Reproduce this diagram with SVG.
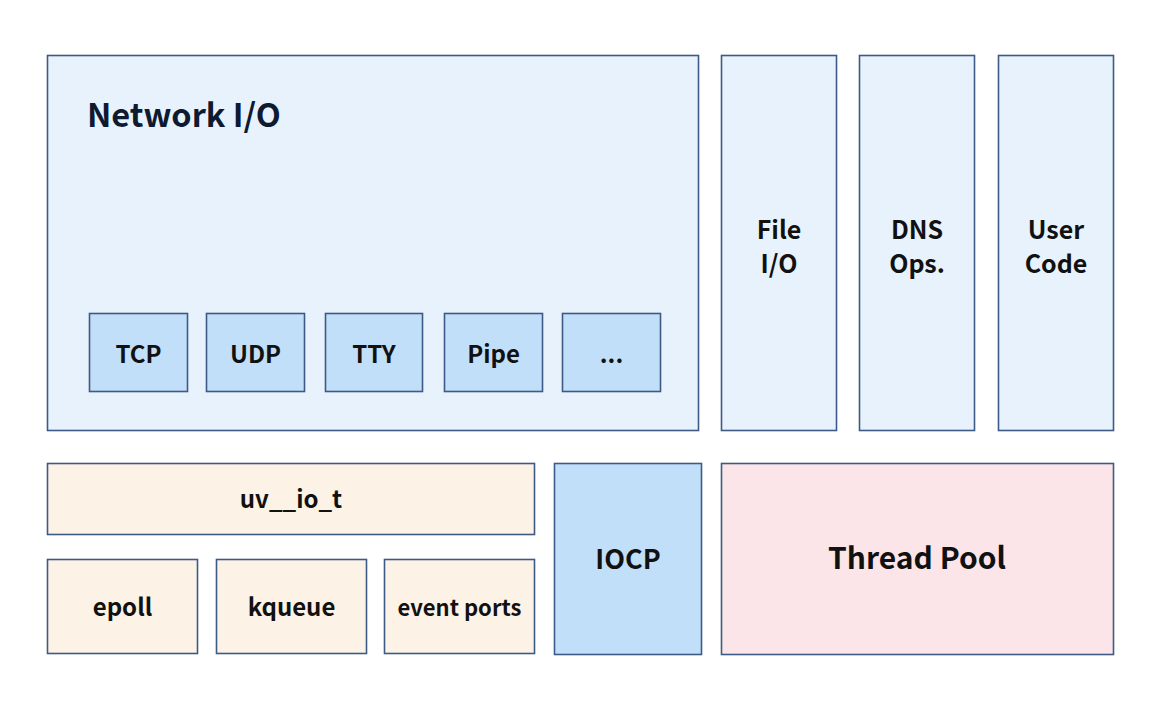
<svg xmlns="http://www.w3.org/2000/svg" width="1170" height="706" viewBox="0 0 1170 706">
<style>
rect{stroke:#3d5a86;stroke-width:1.6}
.lb{fill:#e8f2fd}.bl{fill:#c2dff9}.be{fill:#fcf3e6}.pk{fill:#fbe5e8}
text{font-family:"Noto Sans CJK SC","Noto Sans",sans-serif;font-weight:600;fill:#111;text-anchor:middle;dominant-baseline:central}
.s{font-size:24px}.m{font-size:25px}
</style>
<rect x="0" y="0" width="1170" height="706" fill="#fff" style="stroke:none"/>
<g id="network-io"><rect class="lb" x="47.5" y="55.5" width="651" height="375"/><text x="87" y="112" style="font-size:32.5px;text-anchor:start;fill:#0e1a30">Network I/O</text></g>
<g id="tcp"><rect class="bl" x="89.5" y="313.5" width="98" height="78"/><text class="s" x="138.5" y="352">TCP</text></g>
<g id="udp"><rect class="bl" x="206.5" y="313.5" width="98" height="78"/><text class="s" x="255.5" y="352">UDP</text></g>
<g id="tty"><rect class="bl" x="325.5" y="313.5" width="97" height="78"/><text class="s" x="374" y="352">TTY</text></g>
<g id="pipe"><rect class="bl" x="444.5" y="313.5" width="98" height="78"/><text class="s" x="493.5" y="352">Pipe</text></g>
<g id="more"><rect class="bl" x="562.5" y="313.5" width="98" height="78"/><text class="s" x="611.5" y="352">...</text></g>
<g id="file-io"><rect class="lb" x="721.5" y="55.5" width="115" height="375"/><text class="m" x="779" y="228">File</text><text class="m" x="779" y="262">I/O</text></g>
<g id="dns"><rect class="lb" x="859.5" y="55.5" width="115" height="375"/><text class="m" x="917" y="228">DNS</text><text class="m" x="917" y="262">Ops.</text></g>
<g id="user-code"><rect class="lb" x="998.5" y="55.5" width="115" height="375"/><text class="m" x="1056" y="228">User</text><text class="m" x="1056" y="262">Code</text></g>
<g id="uv-io-t"><rect class="be" x="47.5" y="463.5" width="487" height="71"/><text class="s" x="291" y="497">uv__io_t</text></g>
<g id="epoll"><rect class="be" x="47.5" y="559.5" width="150" height="94"/><text class="s" x="122.5" y="605">epoll</text></g>
<g id="kqueue"><rect class="be" x="216.5" y="559.5" width="150" height="94"/><text class="s" x="291.5" y="605">kqueue</text></g>
<g id="event-ports"><rect class="be" x="384.5" y="559.5" width="150" height="94"/><text x="459.5" y="606" style="font-size:22px">event ports</text></g>
<g id="iocp"><rect class="bl" x="554.5" y="463.5" width="147" height="191"/><text x="628" y="557" style="font-size:27px">IOCP</text></g>
<g id="thread-pool"><rect class="pk" x="721.5" y="463.5" width="392" height="191"/><text x="917" y="556" style="font-size:30px">Thread Pool</text></g>
<g id="connectors"></g>
</svg>
